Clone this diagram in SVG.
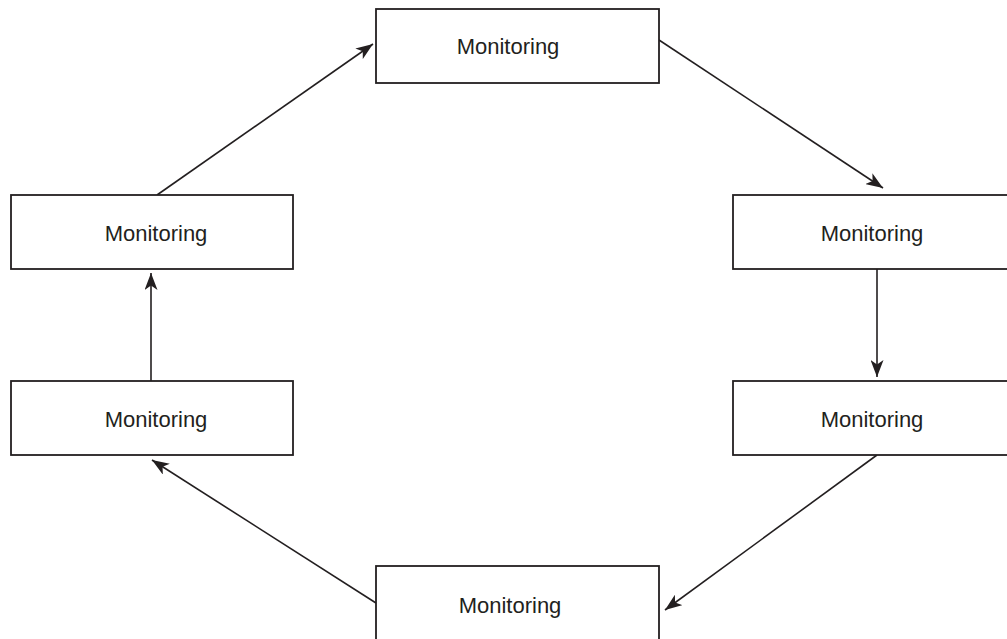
<svg xmlns="http://www.w3.org/2000/svg" width="1007" height="639" viewBox="0 0 1007 639">
  <style>
    .box { fill: #ffffff; stroke: #231f20; stroke-width: 1.8; }
    .lbl { font-family: "Liberation Sans", Arial, sans-serif; font-size: 22px; fill: #231f20; text-anchor: middle; }
    .conn { stroke: #231f20; stroke-width: 1.6; fill: none; marker-end: url(#arrow); }
  </style>
  <defs>
    <marker id="arrow" viewBox="0 0 17 13" refX="17" refY="6.5" markerWidth="17" markerHeight="13" markerUnits="userSpaceOnUse" orient="auto">
      <path d="M0,0 L17,6.5 L0,13 L4.5,6.5 z" fill="#231f20"/>
    </marker>
  </defs>
  <rect width="1007" height="639" fill="#ffffff"/>
  <g id="connectors">
    <line class="conn" x1="157" y1="195" x2="373" y2="44"/>
    <line class="conn" x1="659" y1="40" x2="883" y2="188"/>
    <line class="conn" x1="877" y1="269" x2="877" y2="377"/>
    <line class="conn" x1="877" y1="455" x2="665" y2="610"/>
    <line class="conn" x1="376" y1="603" x2="152" y2="460"/>
    <line class="conn" x1="151" y1="381" x2="151" y2="273"/>
  </g>
  <g id="node-top">
    <rect class="box" x="376" y="9" width="283" height="74"/>
    <text class="lbl" x="508" y="54">Monitoring</text>
  </g>
  <g id="node-right-upper">
    <rect class="box" x="733" y="195" width="283" height="74"/>
    <text class="lbl" x="872" y="241">Monitoring</text>
  </g>
  <g id="node-right-lower">
    <rect class="box" x="733" y="381" width="283" height="74"/>
    <text class="lbl" x="872" y="427">Monitoring</text>
  </g>
  <g id="node-bottom">
    <rect class="box" x="376" y="566" width="283" height="80"/>
    <text class="lbl" x="510" y="613">Monitoring</text>
  </g>
  <g id="node-left-lower">
    <rect class="box" x="11" y="381" width="282" height="74"/>
    <text class="lbl" x="156" y="427">Monitoring</text>
  </g>
  <g id="node-left-upper">
    <rect class="box" x="11" y="195" width="282" height="74"/>
    <text class="lbl" x="156" y="241">Monitoring</text>
  </g>
</svg>
